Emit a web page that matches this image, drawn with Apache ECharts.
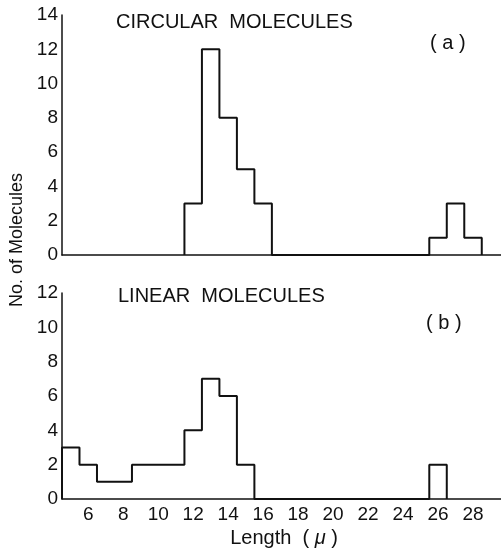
<!DOCTYPE html>
<html>
<head>
<meta charset="utf-8">
<script src="https://cdn.jsdelivr.net/npm/echarts@6/dist/echarts.min.js"></script>
<style>
html,body{margin:0;padding:0;background:#fff;}
#chart{width:501px;height:552px;}
</style>
</head>
<body>
<div id="chart"></div>
<script>
// Histogram data: bin centres (length in microns, bin width 1) and counts
const circularCenters = [12, 13, 14, 15, 16, 26, 27, 28];
const circularCounts  = [3, 12, 8, 5, 3, 1, 3, 1];
const linearCenters = [5, 6, 7, 8, 9, 10, 11, 12, 13, 14, 15, 26];
const linearCounts  = [3, 2, 1, 1, 2, 2, 2, 4, 7, 6, 2, 2];
const binWidth = 1;
const xTickLabels = [6, 8, 10, 12, 14, 16, 18, 20, 22, 24, 26, 28];
const topYMax = 14;
const bottomYMax = 12;
const titleA = 'CIRCULAR  MOLECULES';
const titleB = 'LINEAR  MOLECULES';
const yName = 'No. of Molecules';

function outline(centers, counts) {
  const pts = [];
  let i = 0;
  while (i < centers.length) {
    let j = i;
    while (j + 1 < centers.length && centers[j + 1] - centers[j] === binWidth) j++;
    pts.push([centers[i] - binWidth / 2, 0]);
    for (let k = i; k <= j; k++) pts.push([centers[k] - binWidth / 2, counts[k]]);
    pts.push([centers[j] + binWidth / 2, 0]);
    i = j + 1;
  }
  return pts;
}

const FONT = '"Liberation Sans", Arial, sans-serif';
const chart = echarts.init(document.getElementById('chart'));
const axisLine = { show: true, onZero: false, lineStyle: { color: '#111', width: 1.5 } };
const xBase = {
  type: 'value', min: 4.5, max: 29.6,
  axisLine: axisLine, axisTick: { show: false }, splitLine: { show: false }
};
const yBase = {
  type: 'value', min: 0, interval: 2,
  axisLine: axisLine, axisTick: { show: false }, splitLine: { show: false },
  axisLabel: { fontSize: 19, color: '#111', fontFamily: FONT, margin: 4 }
};
chart.setOption({
  animation: false,
  backgroundColor: '#fff',
  grid: [
    { left: 62, right: 0, top: 15, height: 240 },
    { left: 62, right: 0, top: 293, height: 206 }
  ],
  xAxis: [
    Object.assign({}, xBase, { gridIndex: 0, axisLabel: { show: false } }),
    Object.assign({}, xBase, { gridIndex: 1,
      axisLabel: { customValues: xTickLabels, fontSize: 19, color: '#111', fontFamily: FONT, margin: 6 } })
  ],
  yAxis: [
    Object.assign({}, yBase, { gridIndex: 0, max: topYMax }),
    Object.assign({}, yBase, { gridIndex: 1, max: bottomYMax })
  ],
  series: [
    { type: 'line', xAxisIndex: 0, yAxisIndex: 0, step: 'end', showSymbol: false, clip: false,
      lineStyle: { color: '#111', width: 2 }, data: outline(circularCenters, circularCounts) },
    { type: 'line', xAxisIndex: 1, yAxisIndex: 1, step: 'end', showSymbol: false, clip: false,
      lineStyle: { color: '#111', width: 2 }, data: outline(linearCenters, linearCounts) }
  ],
  graphic: [
    { type: 'text', left: 116, top: 12, style: { text: titleA, fontSize: 20, fill: '#111', fontFamily: FONT } },
    { type: 'text', left: 430, top: 33, style: { text: '( a )', fontSize: 20, fill: '#111', fontFamily: FONT } },
    { type: 'text', left: 118, top: 286, style: { text: titleB, fontSize: 20, fill: '#111', fontFamily: FONT } },
    { type: 'text', left: 426, top: 313, style: { text: '( b )', fontSize: 20, fill: '#111', fontFamily: FONT } },
    { type: 'text', x: 17, y: 240, rotation: Math.PI / 2,
      style: { text: yName, fontSize: 18, fill: '#111', fontFamily: FONT, align: 'center', verticalAlign: 'middle' } },
    { type: 'text', x: 284, y: 538,
      style: { rich: { n: { fontSize: 20, fontFamily: FONT, fill: '#111' }, m: { fontSize: 20, fontFamily: FONT, fontStyle: 'italic', fill: '#111' } },
        text: '{n|Length  ( }{m|μ}{n| )}', align: 'center', verticalAlign: 'middle' } }
  ]
});
</script>
</body>
</html>
